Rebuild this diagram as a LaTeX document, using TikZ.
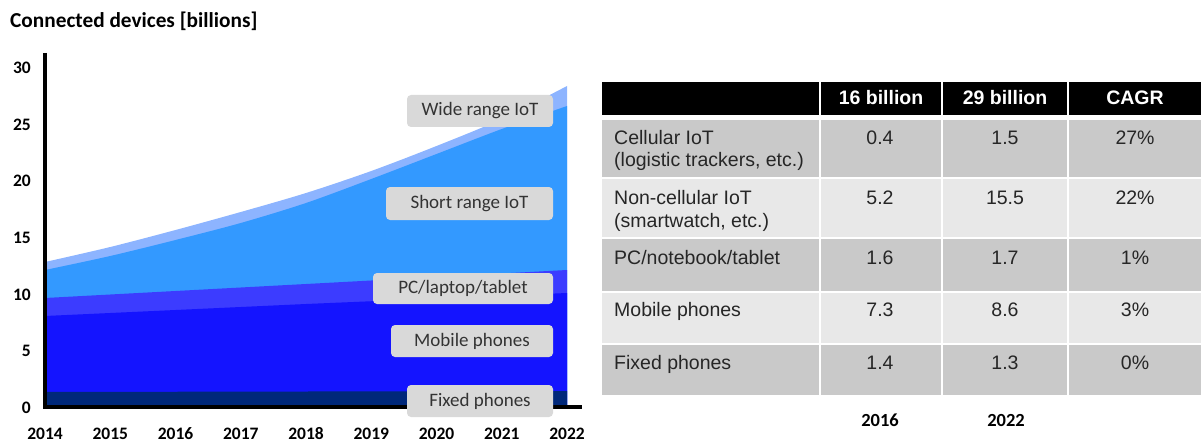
\documentclass[tikz,border=0pt]{standalone}
\usepackage{fontspec}
\setmainfont{Carlito}
\newfontfamily\arialf{Liberation Sans}
\definecolor{cwide}{HTML}{8DB4FF}
\definecolor{cshort}{HTML}{3399FF}
\definecolor{cpc}{HTML}{3C3CFF}
\definecolor{cmobile}{HTML}{1414FF}
\definecolor{cfixed}{HTML}{00287A}
\definecolor{lblbox}{HTML}{D9D9D9}
\definecolor{lbltext}{HTML}{333333}
\definecolor{rowdark}{HTML}{C9C9C9}
\definecolor{rowlight}{HTML}{E8E8E8}
\definecolor{tabtext}{HTML}{262626}
\begin{document}
\begin{tikzpicture}[x=1pt,y=-1pt,
  lbl/.style={fill=lblbox, rounded corners=4pt, inner sep=0pt, text=lbltext,
    font=\fontsize{19}{23}\selectfont},
  axlbl/.style={inner sep=0pt, font=\bfseries\fontsize{17.5}{20}\selectfont},
  tabtxt/.style={inner sep=0pt, text=tabtext, font=\arialf\fontsize{19.5}{23}\selectfont},
  tabhead/.style={inner sep=0pt, text=white, font=\arialf\bfseries\fontsize{19.5}{23}\selectfont},
  yearlbl/.style={inner sep=0pt, anchor=base, font=\bfseries\fontsize{18.5}{21}\selectfont}]
\useasboundingbox (0,0) rectangle (1201,441);

% title
\node[anchor=base west, inner sep=0pt, font=\bfseries\fontsize{21.3}{25}\selectfont] (title) at (10,28) {Connected devices [billions]};

% stacked areas
\fill[cwide] (45,405) -- plot[smooth,tension=0.5] coordinates {(45,262) (110.25,247) (175.5,230) (240.75,212) (306,193) (371.25,171) (436.5,146) (501.75,119) (567,86)} -- (567,405) -- cycle;
\fill[cshort] (45,405) -- plot[smooth,tension=0.5] coordinates {(45,270) (110.25,256) (175.5,240) (240.75,223) (306,203) (371.25,179) (436.5,154) (501.75,129) (567,106)} -- (567,405) -- cycle;
\fill[cpc] (45,405) -- (45,298) -- (306,284) -- (567,270) -- (567,405) -- cycle;
\fill[cmobile] (45,405) -- (45,316) -- (306,304) -- (567,293) -- (567,405) -- cycle;
\fill[cfixed] (45,405) -- (45,392) -- (567,391) -- (567,405) -- cycle;

% axes
\coordinate (ytop) at (45,53);
\coordinate (origin) at (45,407);
\coordinate (xend) at (582,407);
\draw[line width=4pt] (ytop) -- (origin) -- (xend);

% y labels
\foreach \v [count=\i from 0] in {0,5,10,15,20,25,30}
  \node[axlbl, anchor=east] (y\v) at (31,{408-\i*56.67}) {\v};
% x labels
\foreach \yr [count=\i from 0] in {2014,2015,2016,2017,2018,2019,2020,2021,2022}
  \node[axlbl, anchor=base] (x\yr) at ({45+\i*65.25},439) {\yr};

% series labels
\node[lbl, minimum width=146pt, minimum height=32pt] (lwide) at (480,111) {Wide range IoT};
\node[lbl, minimum width=167pt, minimum height=33pt] (lshort) at (469.5,203.5) {Short range IoT};
\node[lbl, minimum width=180pt, minimum height=31pt] (lpc) at (463,288.5) {PC/laptop/tablet};
\node[lbl, minimum width=162pt, minimum height=32pt] (lmobile) at (472,341) {Mobile phones};
\node[lbl, minimum width=146pt, minimum height=32pt] (lfixed) at (480,401) {Fixed phones};

% table header
\fill[black] (602,82) rectangle (819,115);
\fill[black] (821,82) rectangle (941,115);
\fill[black] (943,82) rectangle (1067,115);
\fill[black] (1069,82) rectangle (1201,115);
% table rows
\foreach \ya/\yb/\c in {120/177/rowdark, 179/237/rowlight, 239/291/rowdark, 293/343/rowlight, 345/395/rowdark}{
  \fill[\c] (602,\ya) rectangle (819,\yb);
  \fill[\c] (821,\ya) rectangle (941,\yb);
  \fill[\c] (943,\ya) rectangle (1067,\yb);
  \fill[\c] (1069,\ya) rectangle (1201,\yb);
}

\node[tabhead, anchor=base] (h2) at (881,105) {16 billion};
\node[tabhead, anchor=base] (h3) at (1005,105) {29 billion};
\node[tabhead, anchor=base] (h4) at (1135,105) {CAGR};

% first column
\node[tabtxt, anchor=base west] (r1a) at (614,144) {Cellular IoT};
\node[tabtxt, anchor=base west] (r1b) at (614,166) {(logistic trackers, etc.)};
\node[tabtxt, anchor=base west] (r2a) at (614,204) {Non-cellular IoT};
\node[tabtxt, anchor=base west] (r2b) at (614,227) {(smartwatch, etc.)};
\node[tabtxt, anchor=base west] (r3a) at (614,264) {PC/notebook/tablet};
\node[tabtxt, anchor=base west] (r4a) at (614,316) {Mobile phones};
\node[tabtxt, anchor=base west] (r5a) at (614,369) {Fixed phones};

% numbers
\foreach \yy/\a/\b/\cc/\n in {144/0.4/1.5/27\%/1, 204/5.2/15.5/22\%/2, 264/1.6/1.7/1\%/3, 316/7.3/8.6/3\%/4, 369/1.4/1.3/0\%/5}{
  \node[tabtxt, anchor=base] (n\n a) at (880,\yy) {\a};
  \node[tabtxt, anchor=base] (n\n b) at (1005,\yy) {\b};
  \node[tabtxt, anchor=base] (n\n c) at (1135,\yy) {\cc};
}

\node[yearlbl] (t2016) at (880,426) {2016};
\node[yearlbl] (t2022) at (1006,426) {2022};
\end{tikzpicture}
\end{document}
